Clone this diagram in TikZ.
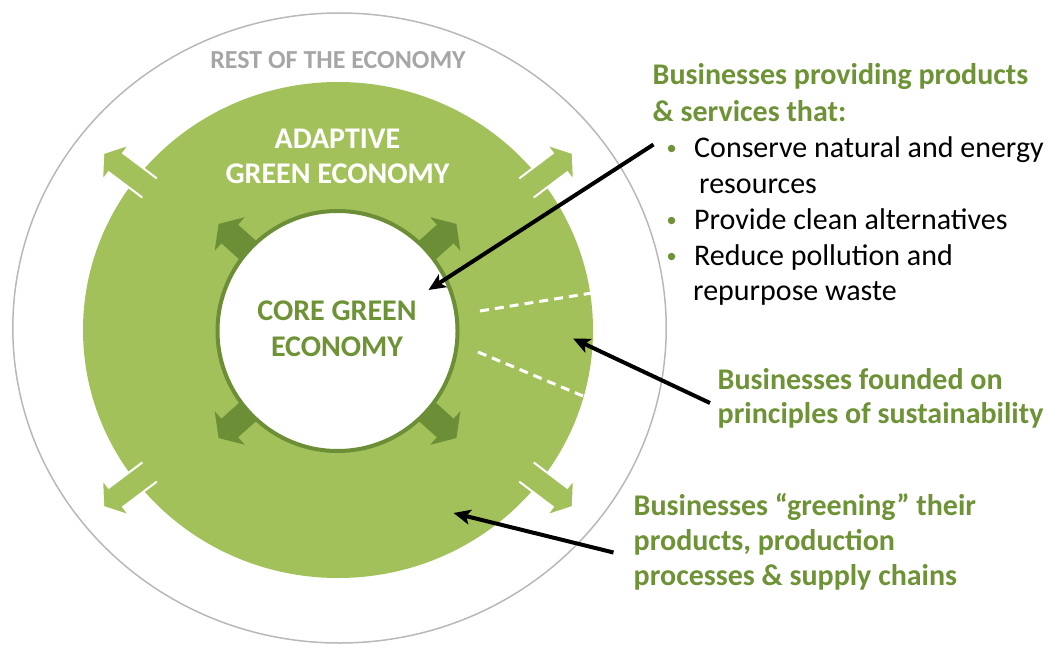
\documentclass[tikz,border=0pt]{standalone}
\usepackage{fontspec}
\setmainfont{Carlito}
\usetikzlibrary{arrows.meta}
\definecolor{ringgreen}{HTML}{A2C15A}
\definecolor{darkgreen}{HTML}{6B8E37}
\definecolor{txtgreen}{HTML}{6E9236}
\definecolor{ringgray}{HTML}{B8B8B8}
\definecolor{restgray}{HTML}{A6A6A6}
\tikzset{
  lbl/.style={inner sep=0pt, font=\fontsize{30}{36}\selectfont\bfseries, text=txtgreen, anchor=base west},
  bodytxt/.style={inner sep=0pt, font=\fontsize{30}{36}\selectfont, text=black, anchor=base west},
  ctrtxt/.style={inner sep=0pt, font=\fontsize{30}{36}\selectfont\bfseries, anchor=base},
  bul/.style={circle, fill=txtgreen, inner sep=0pt, minimum size=7.5pt},
  pointer/.style={draw=black, line width=4pt, -{Stealth[length=17pt,width=15pt,inset=4pt]}},
  dividing/.style={draw=white, line width=3pt, dash pattern=on 9pt off 6pt},
}
\begin{document}
\begin{tikzpicture}[x=1pt,y=-1pt]
\useasboundingbox (0,0) rectangle (1048,647);
% outer economy
\draw[ringgray, line width=1.5pt] (339.5,328) ellipse [x radius=326.7pt, y radius=315pt];
% adaptive green economy disk
\fill[ringgreen] (338,330) ellipse [x radius=255pt, y radius=248pt];
% outer arrows
\foreach \a in {37,143,-37,-143}{
  \begin{scope}[shift={(338,330)}, rotate=\a]
    \fill[ringgreen] (236,-12) -- (278,-12) -- (278,-23) -- (294,0) -- (278,23) -- (278,12) -- (236,12) -- cycle;
    \draw[white, line width=2pt, line join=miter] (236,-12) -- (278,-12) -- (278,-23) -- (294,0) -- (278,23) -- (278,12) -- (236,12);
  \end{scope}
}
% inner arrows
\foreach \a in {42,138,-42,-138}{
  \begin{scope}[shift={(337.5,331)}, rotate=\a]
    \fill[darkgreen] (95,-12.5) -- (145,-12.5) -- (145,-22.5) -- (160,0) -- (145,22.5) -- (145,12.5) -- (95,12.5) -- cycle;
  \end{scope}
}
% core green economy circle
\draw[darkgreen, fill=white, line width=4pt] (337.5,331) circle [radius=120pt];
% dividers
\coordinate (d1a) at (480,311); \coordinate (d1b) at (592,293);
\coordinate (d2a) at (478,352); \coordinate (d2b) at (583,396);
\draw[dividing] (d1a) -- (d1b);
\draw[dividing] (d2a) -- (d2b);
% ring labels
\node[ctrtxt, text=restgray, font=\fontsize{26}{30}\selectfont\bfseries] (rest) at (338,68.5) {REST OF THE ECONOMY};
\node[ctrtxt, text=white] (adapt1) at (337.5,148.5) {ADAPTIVE};
\node[ctrtxt, text=white] (adapt2) at (337.5,183.5) {GREEN ECONOMY};
\node[ctrtxt, text=txtgreen] (core1) at (337,320) {CORE GREEN};
\node[ctrtxt, text=txtgreen] (core2) at (337,356.5) {ECONOMY};
% right texts
\node[lbl] (t1a) at (652.5,85) {Businesses providing products};
\node[lbl] (t1b) at (652.5,121.5) {\& services that:};
\node[bul] (b1) at (671.5,148.5) {};
\node[bodytxt] (s1a) at (694,157.5) {Conserve natural and energy};
\node[bodytxt] (s1b) at (699,193.5) {resources};
\node[bul] (b2) at (671.5,220.5) {};
\node[bodytxt] (s2) at (694,229) {Provide clean alternatives};
\node[bul] (b3) at (671.5,256.5) {};
\node[bodytxt] (s3a) at (694,265) {Reduce pollution and};
\node[bodytxt] (s3b) at (693,300.5) {repurpose waste};
\node[lbl] (t2a) at (717.5,389.5) {Businesses founded on};
\node[lbl] (t2b) at (717.5,423.5) {principles of sustainability};
\node[lbl] (t3a) at (633.5,515) {Businesses “greening” their};
\node[lbl] (t3b) at (633.5,550.5) {products, production};
\node[lbl] (t3c) at (633.5,585.5) {processes \& supply chains};
% pointers
\coordinate (p1s) at (653.5,144.5); \coordinate (p1e) at (428.5,290);
\coordinate (p2s) at (710,403); \coordinate (p2e) at (573,338.5);
\coordinate (p3s) at (613.5,552.5); \coordinate (p3e) at (453.5,513);
\draw[pointer] (p1s) -- (p1e);
\draw[pointer] (p2s) -- (p2e);
\draw[pointer] (p3s) -- (p3e);
\end{tikzpicture}
\end{document}
